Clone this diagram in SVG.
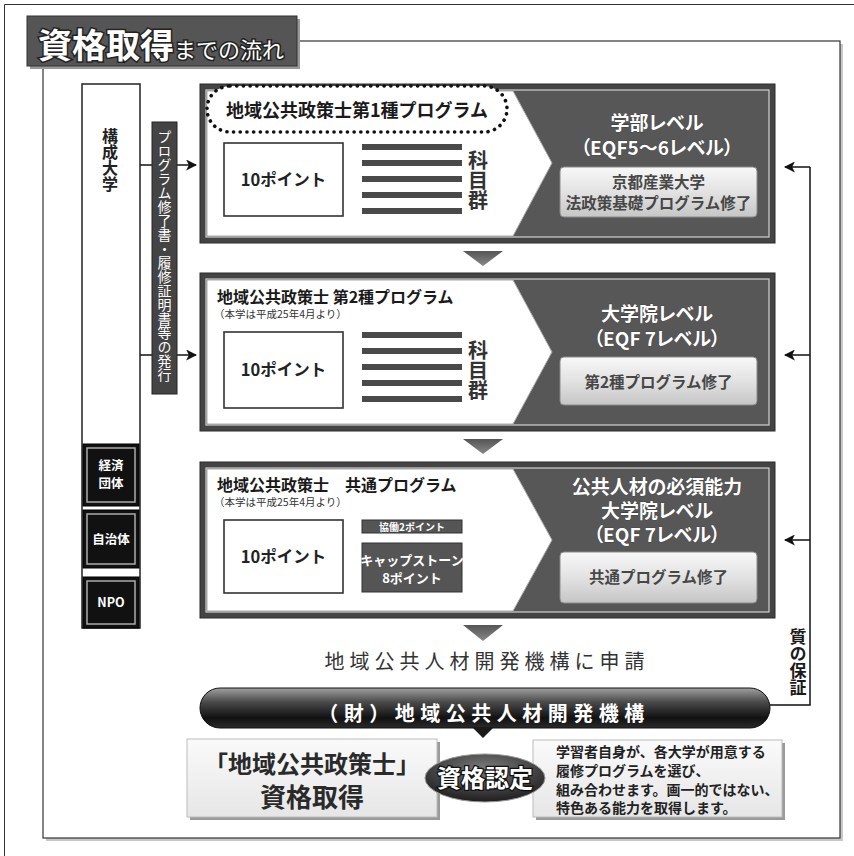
<svg xmlns="http://www.w3.org/2000/svg" width="854" height="856" viewBox="0 0 854 856">
<defs>
<style>
text{font-family:"Noto Sans CJK JP","Noto Sans CJK SC",sans-serif;}
.frame{fill:#444;stroke:#2a2a2a;stroke-width:1;}
.inner{fill:#575757;stroke:#d0d0d0;stroke-width:1.2;}
.white{fill:#fff;stroke:#aaa;stroke-width:1;}
.pt{fill:#fff;stroke:#333;stroke-width:1.6;}
.ptt{font-size:16.5px;font-weight:700;fill:#222;text-anchor:middle;}
.bar{fill:#4a4a4a;}
.vt{writing-mode:vertical-rl;text-orientation:upright;}
.kmk{font-size:20px;font-weight:700;fill:#333;}
.lvl{font-size:19px;font-weight:700;fill:#fff;text-anchor:middle;font-feature-settings:"palt";stroke:#333;stroke-width:0.6;paint-order:stroke;}
.btn{fill:url(#gBtn);stroke:#8a8a8a;stroke-width:1;}
.btt{font-size:15.5px;font-weight:700;fill:#474747;text-anchor:middle;}
.ttl{font-size:16px;font-weight:700;fill:#1a1a1a;}
.sub{font-size:10.5px;fill:#333;}
.tri{fill:url(#gTri);}
.conn{stroke:#111;stroke-width:1.5;fill:none;}
.blk{fill:#111;stroke:#000;stroke-width:1;}
.blkin{fill:none;stroke:#aaa;stroke-width:1.5;}
.blt{font-size:12.5px;font-weight:700;fill:#fff;text-anchor:middle;}
.shadow{fill:#9a9a9a;}
.desc{font-size:14px;font-weight:700;fill:#222;}
</style>
<linearGradient id="gBtn" x1="0" y1="0" x2="0" y2="1"><stop offset="0" stop-color="#f8f8f8"/><stop offset="0.5" stop-color="#e2e2e2"/><stop offset="1" stop-color="#c6c6c6"/></linearGradient>
<linearGradient id="gTri" x1="0" y1="0" x2="0" y2="1"><stop offset="0" stop-color="#555"/><stop offset="1" stop-color="#888"/></linearGradient>
<linearGradient id="gPill" x1="0" y1="0" x2="0" y2="1"><stop offset="0" stop-color="#a0a0a0"/><stop offset="0.35" stop-color="#4a4a4a"/><stop offset="0.75" stop-color="#111"/><stop offset="1" stop-color="#2a2a2a"/></linearGradient>
<radialGradient id="gEll" cx="0.5" cy="0.3" r="0.7"><stop offset="0" stop-color="#7a7a7a"/><stop offset="1" stop-color="#1e1e1e"/></radialGradient>
<linearGradient id="gLight" x1="0" y1="0" x2="0" y2="1"><stop offset="0" stop-color="#fafafa"/><stop offset="1" stop-color="#e6e6e6"/></linearGradient>
<marker id="ah" viewBox="0 0 10 10" refX="9" refY="5" markerWidth="11" markerHeight="11" markerUnits="userSpaceOnUse" orient="auto"><path d="M0,0 L10,5 L0,10 L2.5,5 z" fill="#111"/></marker>
</defs>
<rect width="854" height="856" fill="#fff"/>
<path d="M4.5,856 V4.5 H854" fill="none" stroke="#333" stroke-width="1"/>

<g id="frame">
<rect x="46" y="44" width="797" height="797" fill="#c8c8c8"/>
<rect x="43" y="41" width="797" height="797" fill="#fff" stroke="#333" stroke-width="1.2"/>
</g>

<g id="title">
<rect x="30" y="19" width="270" height="50" class="shadow"/>
<rect x="27" y="16" width="270" height="50" fill="#555" stroke="#333" stroke-width="1"/>
<text x="38" y="58" font-size="34" font-weight="700" fill="#fff" stroke="#222" stroke-width="3" paint-order="stroke">資格取得<tspan font-size="22" font-weight="400">までの流れ</tspan></text>
</g>

<g id="connectors">
<line x1="140" y1="165" x2="196" y2="165" class="conn" marker-end="url(#ah)"/>
<line x1="140" y1="355" x2="196" y2="355" class="conn" marker-end="url(#ah)"/>
<polyline points="770,705 810,705 810,167" class="conn"/>
<line x1="810" y1="167" x2="785" y2="167" class="conn" marker-end="url(#ah)"/>
<line x1="810" y1="355" x2="785" y2="355" class="conn" marker-end="url(#ah)"/>
<line x1="810" y1="540" x2="785" y2="540" class="conn" marker-end="url(#ah)"/>
</g>

<g id="members">
<rect x="82" y="84" width="58" height="544" fill="#fff" stroke="#222" stroke-width="1.5"/>
<text x="110" y="128" class="vt" font-size="16" font-weight="700" fill="#222">構成大学</text>
<g id="keizai">
<rect x="83" y="444" width="56" height="62" class="blk"/>
<rect x="87" y="448" width="48" height="54" class="blkin"/>
<text x="111" y="470" class="blt">経済</text>
<text x="111" y="488" class="blt">団体</text>
</g>
<g id="jichitai">
<rect x="83" y="510" width="56" height="58" class="blk"/>
<rect x="87" y="514" width="48" height="50" class="blkin"/>
<text x="111" y="544" class="blt">自治体</text>
</g>
<g id="npo">
<rect x="83" y="577" width="56" height="51" class="blk"/>
<rect x="87" y="581" width="48" height="43" class="blkin"/>
<text x="111" y="607" class="blt">NPO</text>
</g>
</g>

<g id="issue">
<rect x="152" y="122" width="25" height="272" fill="#444" stroke="#222" stroke-width="1"/>
<text x="164.5" y="130" class="vt" font-size="14" fill="#fff">プログラム修了書・履修証明書等の発行</text>
</g>

<g id="box1">
<rect x="200" y="84" width="575" height="159" class="frame"/>
<rect x="206" y="90" width="563" height="147" class="inner"/>
<polygon points="207,91 513,91 552,163 513,236 207,236" class="white"/>
<rect x="207" y="86" width="300" height="46" rx="23" fill="#fff" stroke="#111" stroke-width="3.6" stroke-dasharray="0.1 6.6" stroke-linecap="round"/>
<text x="357" y="117" font-size="18" font-weight="700" fill="#1a1a1a" text-anchor="middle">地域公共政策士第1種プログラム</text>
<rect x="224" y="143" width="119" height="73" class="pt"/>
<text x="283.5" y="186" class="ptt">10ポイント</text>
<rect x="362" y="144" width="100" height="6" class="bar"/>
<rect x="362" y="160" width="100" height="6" class="bar"/>
<rect x="362" y="176" width="100" height="6" class="bar"/>
<rect x="362" y="192" width="100" height="6" class="bar"/>
<rect x="362" y="208" width="100" height="6" class="bar"/>
<text x="478" y="150" class="vt kmk">科目群</text>
<text x="657" y="130" class="lvl">学部レベル</text>
<text x="657" y="155" class="lvl">（EQF5〜6レベル）</text>
<rect x="560" y="167" width="197" height="50" rx="4" class="btn"/>
<text x="658.5" y="188" class="btt">京都産業大学</text>
<text x="658.5" y="209" class="btt">法政策基礎プログラム修了</text>
</g>

<polygon points="463,251 503,251 483,266" class="tri"/>

<g id="box2">
<rect x="200" y="273" width="575" height="158" class="frame"/>
<rect x="206" y="279" width="563" height="146" class="inner"/>
<polygon points="207,280 513,280 552,352 513,424 207,424" class="white"/>
<text x="217" y="303" class="ttl">地域公共政策士 第2種プログラム</text>
<text x="214" y="318" class="sub">（本学は平成25年4月より）</text>
<rect x="224" y="332" width="119" height="76" class="pt"/>
<text x="283.5" y="376" class="ptt">10ポイント</text>
<rect x="362" y="332" width="100" height="6" class="bar"/>
<rect x="362" y="348" width="100" height="6" class="bar"/>
<rect x="362" y="364" width="100" height="6" class="bar"/>
<rect x="362" y="380" width="100" height="6" class="bar"/>
<rect x="362" y="396" width="100" height="6" class="bar"/>
<text x="478" y="340" class="vt kmk">科目群</text>
<text x="657" y="321" class="lvl">大学院レベル</text>
<text x="657" y="346" class="lvl">（EQF 7レベル）</text>
<rect x="560" y="357" width="197" height="48" rx="4" class="btn"/>
<text x="658.5" y="388" class="btt">第2種プログラム修了</text>
</g>

<polygon points="463,439 503,439 483,454" class="tri"/>

<g id="box3">
<rect x="200" y="462" width="575" height="156" class="frame"/>
<rect x="206" y="468" width="563" height="144" class="inner"/>
<polygon points="207,469 513,469 552,540 513,611 207,611" class="white"/>
<text x="217" y="491" class="ttl">地域公共政策士　共通プログラム</text>
<text x="214" y="506" class="sub">（本学は平成25年4月より）</text>
<rect x="224" y="520" width="119" height="73" class="pt"/>
<text x="283.5" y="563" class="ptt">10ポイント</text>
<rect x="362" y="520" width="100" height="13" fill="#555" stroke="#333" stroke-width="1"/>
<text x="412" y="530.5" font-size="10" font-weight="700" fill="#fff" text-anchor="middle">協働2ポイント</text>
<rect x="362" y="543" width="100" height="49" fill="#555" stroke="#333" stroke-width="1"/>
<text x="412" y="565" font-size="13" font-weight="700" fill="#fff" text-anchor="middle">キャップストーン</text>
<text x="412" y="583" font-size="13" font-weight="700" fill="#fff" text-anchor="middle">8ポイント</text>
<text x="657" y="494" class="lvl">公共人材の必須能力</text>
<text x="657" y="518" class="lvl">大学院レベル</text>
<text x="657" y="542" class="lvl">（EQF 7レベル）</text>
<rect x="560" y="552" width="197" height="51" rx="4" class="btn"/>
<text x="658.5" y="583" class="btt">共通プログラム修了</text>
</g>

<polygon points="463,625 503,625 483,641" class="tri"/>

<g id="apply">
<text x="487" y="669" font-size="20" fill="#333" text-anchor="middle" letter-spacing="5">地域公共人材開発機構に申請</text>
</g>

<g id="org">
<rect x="200" y="688" width="570" height="40" rx="20" fill="url(#gPill)" stroke="#111" stroke-width="1"/>
<polygon points="472,727 494,727 483,738" fill="#1a1a1a"/>
<text x="484" y="721" font-size="20" font-weight="700" fill="#fff" text-anchor="middle" letter-spacing="5.5">（財）地域公共人材開発機構</text>
</g>

<g id="quality">
<text x="798" y="628" class="vt" font-size="17" font-weight="700" fill="#1a1a1a">質の保証</text>
</g>

<g id="result">
<rect x="190" y="742" width="250" height="78" class="shadow"/>
<rect x="187" y="739" width="250" height="78" fill="url(#gLight)" stroke="#bbb" stroke-width="1"/>
<text x="312" y="773" font-size="24" font-weight="700" fill="#2a2a2a" text-anchor="middle">「地域公共政策士」</text>
<text x="312" y="807" font-size="26" font-weight="700" fill="#2a2a2a" text-anchor="middle">資格取得</text>
</g>

<g id="desc">
<rect x="536" y="743" width="249" height="77" class="shadow"/>
<rect x="533" y="740" width="249" height="77" fill="url(#gLight)" stroke="#bbb" stroke-width="1"/>
<text x="556" y="757" class="desc">学習者自身が、各大学が用意する</text>
<text x="556" y="776" class="desc">履修プログラムを選び、</text>
<text x="556" y="795" class="desc">組み合わせます。画一的ではない、</text>
<text x="556" y="813" class="desc">特色ある能力を取得します。</text>
</g>

<g id="certify">
<ellipse cx="485" cy="778" rx="60" ry="24" fill="url(#gEll)" stroke="#999" stroke-width="1"/>
<text x="485" y="787" font-size="24" font-weight="700" fill="#fff" stroke="#111" stroke-width="2.5" paint-order="stroke" text-anchor="middle">資格認定</text>
</g>
</svg>
